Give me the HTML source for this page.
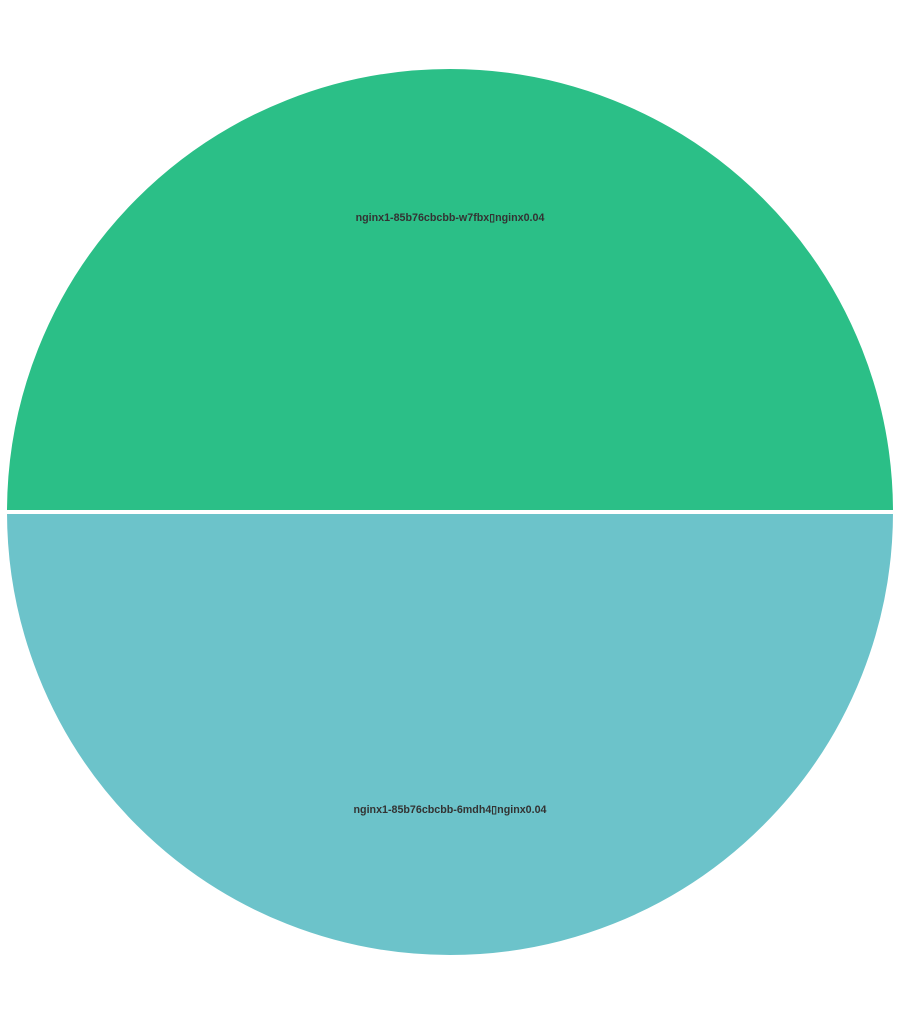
<!DOCTYPE html>
<html><head><meta charset="utf-8"><style>
html,body{margin:0;padding:0;background:#fff;}
svg text{font-family:"Liberation Sans",sans-serif;font-size:10.7px;font-weight:bold;fill:#333;}
</style></head><body>
<svg id="chart" width="900" height="1024" viewBox="0 0 900 1024"></svg>
<script>
const labels = ["nginx1-85b76cbcbb-w7fbx\u25AFnginx", "nginx1-85b76cbcbb-6mdh4\u25AFnginx"];
const values = [0.04, 0.04];
const colors = ["#2bbf87", "#6cc3ca"];
const svg = document.getElementById('chart');
const NS = "http://www.w3.org/2000/svg";
const cx = 450, cy = 512, r = 445;
const total = values.reduce((a,b)=>a+b,0);
let a0 = Math.PI;
values.forEach((v,i)=>{
  const a1 = a0 + v/total*2*Math.PI;
  const x0 = cx + r*Math.cos(a0), y0 = cy + r*Math.sin(a0);
  const x1 = cx + r*Math.cos(a1), y1 = cy + r*Math.sin(a1);
  const large = (a1-a0) > Math.PI ? 1 : 0;
  const p = document.createElementNS(NS,'path');
  p.setAttribute('d', `M${cx},${cy} L${x0},${y0} A${r},${r} 0 ${large} 1 ${x1},${y1} Z`);
  p.setAttribute('fill', colors[i]);
  p.setAttribute('stroke', '#fff');
  p.setAttribute('stroke-width', '4');
  
  
  svg.appendChild(p);
  const am = (a0+a1)/2;
  const t = document.createElementNS(NS,'text');
  t.setAttribute('x', cx + 296*Math.cos(am));
  t.setAttribute('y', cy + 296*Math.sin(am) + 5);
  t.setAttribute('text-anchor', 'middle');
  t.textContent = labels[i] + v;
  
  
  svg.appendChild(t);
  a0 = a1;
});
</script>
</body></html>
